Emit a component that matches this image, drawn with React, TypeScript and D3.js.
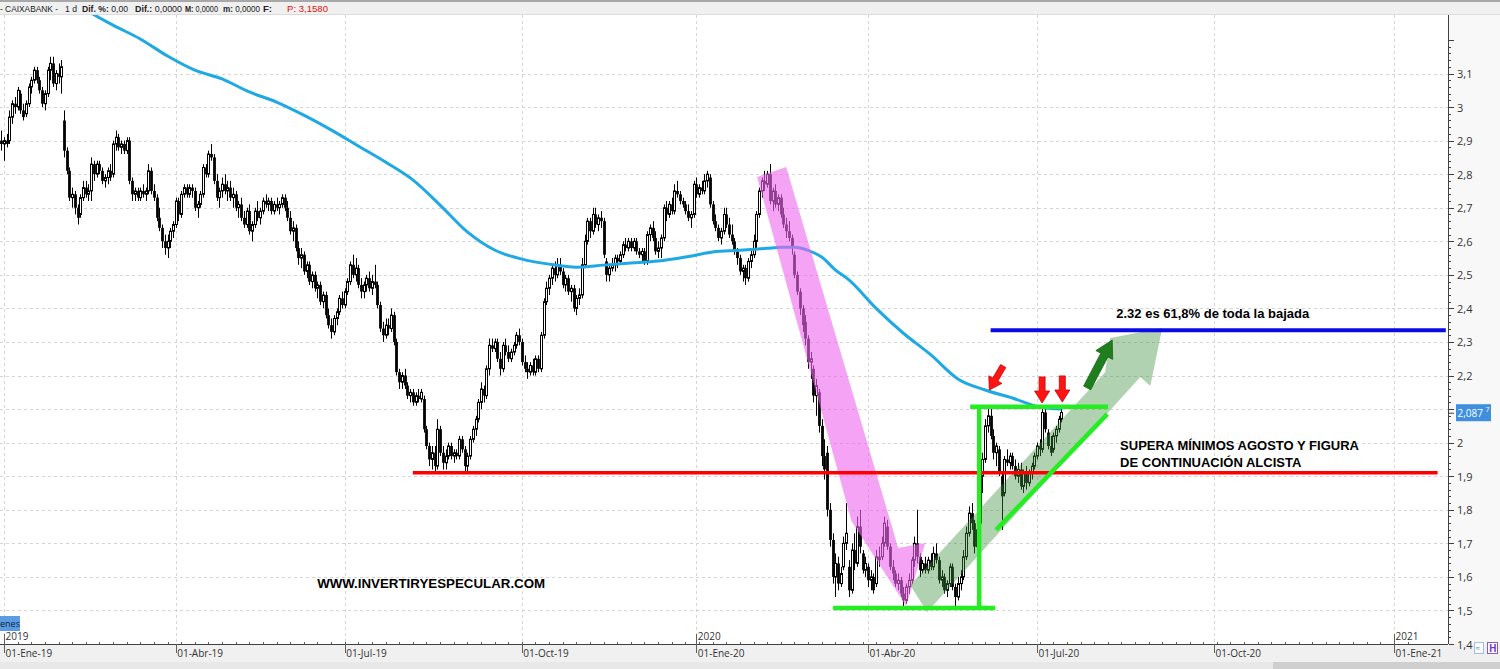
import React from 'react';
import * as d3 from 'd3';

// ---------- DATA (daily candles, trading-day index starting at -1) ----------
const START_INDEX = -1;

const opens = [
  2.90,2.89,2.90,2.90,2.97,3.01,3.00,3.04,2.99,2.98,3.01,
  3.06,3.08,3.11,3.08,3.05,3.01,3.04,3.11,3.13,3.07,
  3.10,3.09,2.96,2.87,2.81,2.73,2.74,2.70,2.68,2.73,
  2.76,2.74,2.75,2.83,2.80,2.83,2.81,2.78,2.79,2.81,
  2.80,2.89,2.91,2.88,2.89,2.87,2.90,2.78,2.74,2.75,
  2.73,2.75,2.74,2.75,2.81,2.75,2.73,2.67,2.64,2.60,
  2.58,2.60,2.63,2.65,2.72,2.68,2.74,2.76,2.74,2.76,
  2.75,2.70,2.71,2.74,2.82,2.80,2.86,2.85,2.78,2.73,
  2.75,2.77,2.75,2.76,2.73,2.74,2.70,2.71,2.67,2.65,
  2.69,2.63,2.65,2.69,2.67,2.69,2.72,2.71,2.72,2.69,
  2.71,2.70,2.71,2.73,2.70,2.67,2.63,2.64,2.58,2.55,
  2.56,2.51,2.53,2.48,2.50,2.46,2.47,2.42,2.44,2.38,
  2.35,2.33,2.37,2.39,2.43,2.41,2.45,2.48,2.53,2.50,
  2.52,2.47,2.45,2.47,2.49,2.46,2.48,2.47,2.41,2.34,
  2.32,2.35,2.34,2.38,2.30,2.21,2.18,2.20,2.17,2.14,
  2.15,2.12,2.14,2.13,2.13,2.04,1.99,1.95,1.97,1.93,
  2.04,1.97,1.94,1.96,1.99,1.96,1.97,1.96,2.01,1.98,
  1.93,1.96,2.01,2.04,2.07,2.12,2.16,2.14,2.22,2.29,
  2.28,2.30,2.25,2.22,2.29,2.27,2.25,2.27,2.29,2.32,
  2.30,2.24,2.22,2.21,2.23,2.21,2.25,2.22,2.32,2.42,
  2.46,2.49,2.52,2.50,2.53,2.51,2.47,2.49,2.45,2.46,
  2.40,2.43,2.44,2.53,2.60,2.66,2.63,2.68,2.65,2.67,
  2.66,2.54,2.50,2.52,2.53,2.55,2.54,2.56,2.59,2.58,
  2.60,2.58,2.60,2.57,2.56,2.57,2.54,2.62,2.64,2.61,
  2.57,2.58,2.61,2.70,2.68,2.71,2.69,2.75,2.74,2.72,
  2.71,2.69,2.67,2.68,2.77,2.74,2.76,2.75,2.78,2.79,
  2.71,2.66,2.64,2.61,2.63,2.68,2.65,2.62,2.60,2.57,
  2.55,2.51,2.52,2.49,2.54,2.56,2.60,2.68,2.75,2.78,
  2.77,2.80,2.72,2.75,2.71,2.73,2.68,2.65,2.63,2.61,
  2.56,2.50,2.45,2.40,2.36,2.31,2.24,2.22,2.14,2.15,
  2.05,1.96,1.97,1.80,1.71,1.60,1.64,1.58,1.63,1.70,
  1.63,1.56,1.68,1.64,1.75,1.67,1.62,1.63,1.59,1.60,
  1.58,1.66,1.66,1.70,1.75,1.69,1.63,1.61,1.58,1.59,
  1.55,1.53,1.57,1.59,1.65,1.70,1.66,1.62,1.64,1.62,
  1.65,1.63,1.67,1.65,1.59,1.60,1.56,1.58,1.63,1.57,
  1.54,1.58,1.60,1.66,1.73,1.79,1.76,1.69,1.76,1.90,
  1.95,2.05,2.08,2.02,1.97,1.98,1.90,1.85,1.95,1.94,
  1.96,1.93,1.90,1.92,1.87,1.91,1.88,1.91,1.93,1.96,
  1.99,1.98,2.09,2.03,1.99,1.98,2.02,2.04,2.07,
];

const highs = [
  2.93,2.91,2.92,2.99,3.02,3.03,3.06,3.05,3.01,3.02,3.07,
  3.09,3.12,3.12,3.09,3.06,3.05,3.12,3.15,3.15,3.11,
  3.13,3.14,2.99,2.88,2.82,2.76,2.75,2.71,2.74,2.78,
  2.78,2.77,2.85,2.84,2.84,2.84,2.82,2.80,2.82,2.83,
  2.90,2.93,2.92,2.90,2.90,2.91,2.91,2.79,2.76,2.76,
  2.76,2.77,2.76,2.83,2.82,2.77,2.74,2.70,2.65,2.62,
  2.62,2.64,2.66,2.73,2.73,2.75,2.77,2.77,2.77,2.77,
  2.76,2.72,2.75,2.83,2.83,2.87,2.89,2.86,2.80,2.76,
  2.79,2.80,2.78,2.78,2.76,2.75,2.72,2.73,2.69,2.70,
  2.71,2.66,2.70,2.72,2.70,2.73,2.74,2.73,2.73,2.72,
  2.73,2.72,2.74,2.74,2.72,2.69,2.66,2.65,2.60,2.58,
  2.57,2.54,2.54,2.51,2.51,2.48,2.48,2.45,2.45,2.40,
  2.37,2.38,2.40,2.44,2.45,2.46,2.49,2.54,2.56,2.55,
  2.53,2.49,2.48,2.50,2.51,2.50,2.53,2.48,2.42,2.36,
  2.37,2.37,2.40,2.39,2.31,2.22,2.21,2.22,2.18,2.16,
  2.16,2.15,2.16,2.16,2.14,2.05,2.00,1.99,1.99,2.07,
  2.05,1.99,1.98,2.00,2.00,1.98,1.98,2.02,2.02,1.99,
  1.97,2.02,2.05,2.08,2.13,2.18,2.17,2.23,2.31,2.31,
  2.31,2.31,2.27,2.30,2.31,2.29,2.28,2.30,2.33,2.34,
  2.31,2.26,2.24,2.24,2.25,2.26,2.26,2.33,2.43,2.48,
  2.50,2.53,2.54,2.55,2.55,2.52,2.50,2.50,2.47,2.47,
  2.44,2.46,2.55,2.62,2.67,2.67,2.70,2.70,2.68,2.69,
  2.67,2.55,2.53,2.55,2.56,2.56,2.57,2.60,2.61,2.61,
  2.61,2.61,2.61,2.58,2.58,2.58,2.63,2.65,2.66,2.63,
  2.60,2.62,2.71,2.72,2.72,2.73,2.77,2.78,2.75,2.73,
  2.72,2.71,2.69,2.78,2.79,2.77,2.78,2.80,2.81,2.80,
  2.72,2.68,2.65,2.64,2.70,2.70,2.67,2.65,2.61,2.58,
  2.56,2.53,2.53,2.55,2.58,2.62,2.69,2.76,2.79,2.81,
  2.81,2.83,2.76,2.77,2.74,2.74,2.70,2.67,2.66,2.62,
  2.57,2.51,2.46,2.41,2.38,2.32,2.27,2.23,2.19,2.16,
  2.07,2.01,1.99,1.82,1.73,1.67,1.66,1.63,1.72,1.82,
  1.65,1.70,1.73,1.78,1.80,1.68,1.66,1.64,1.62,1.61,
  1.68,1.69,1.72,1.78,1.77,1.70,1.65,1.62,1.61,1.60,
  1.57,1.58,1.61,1.66,1.72,1.80,1.67,1.65,1.66,1.66,
  1.67,1.69,1.70,1.66,1.62,1.61,1.59,1.64,1.64,1.58,
  1.60,1.62,1.68,1.75,1.81,1.82,1.77,1.76,1.92,1.97,
  2.07,2.11,2.10,2.04,2.00,1.99,1.91,1.96,1.98,1.97,
  1.97,1.95,1.94,1.94,1.92,1.93,1.92,1.94,1.97,2.00,
  2.01,2.11,2.10,2.04,2.02,2.03,2.05,2.08,2.11,
];

const lows = [
  2.87,2.84,2.88,2.89,2.95,2.98,2.99,2.98,2.96,2.97,3.00,
  3.04,3.07,3.07,3.04,3.00,2.99,3.03,3.08,3.06,3.05,
  3.07,3.04,2.85,2.80,2.72,2.70,2.68,2.65,2.67,2.72,
  2.73,2.72,2.72,2.78,2.79,2.80,2.77,2.76,2.77,2.78,
  2.79,2.87,2.87,2.86,2.86,2.86,2.77,2.72,2.72,2.72,
  2.72,2.73,2.72,2.74,2.74,2.72,2.66,2.63,2.58,2.56,
  2.55,2.58,2.61,2.64,2.66,2.67,2.73,2.73,2.73,2.73,
  2.69,2.67,2.70,2.73,2.79,2.79,2.84,2.77,2.72,2.70,
  2.73,2.74,2.72,2.72,2.70,2.69,2.67,2.66,2.64,2.64,
  2.62,2.60,2.64,2.66,2.65,2.68,2.70,2.69,2.68,2.68,
  2.69,2.68,2.70,2.69,2.66,2.62,2.60,2.57,2.53,2.52,
  2.50,2.49,2.47,2.46,2.45,2.43,2.41,2.40,2.37,2.34,
  2.31,2.32,2.35,2.38,2.40,2.40,2.44,2.47,2.49,2.48,
  2.46,2.43,2.43,2.45,2.45,2.44,2.46,2.40,2.33,2.30,
  2.31,2.32,2.33,2.29,2.20,2.16,2.16,2.16,2.13,2.12,
  2.11,2.11,2.12,2.12,2.03,1.98,1.93,1.92,1.91,1.92,
  1.96,1.92,1.92,1.95,1.95,1.94,1.95,1.95,1.97,1.91,
  1.91,1.95,2.00,2.02,2.06,2.10,2.12,2.13,2.20,2.27,
  2.27,2.24,2.20,2.21,2.26,2.24,2.24,2.26,2.28,2.29,
  2.23,2.21,2.19,2.20,2.20,2.20,2.21,2.21,2.31,2.41,
  2.44,2.47,2.48,2.49,2.50,2.46,2.45,2.44,2.42,2.39,
  2.38,2.41,2.43,2.52,2.59,2.61,2.62,2.64,2.63,2.64,
  2.55,2.48,2.48,2.51,2.51,2.52,2.53,2.55,2.57,2.57,
  2.57,2.57,2.56,2.55,2.54,2.53,2.53,2.60,2.60,2.56,
  2.55,2.55,2.60,2.66,2.67,2.68,2.68,2.73,2.71,2.70,
  2.68,2.66,2.64,2.67,2.73,2.73,2.74,2.74,2.76,2.70,
  2.65,2.63,2.60,2.59,2.62,2.64,2.61,2.59,2.56,2.53,
  2.50,2.48,2.47,2.48,2.52,2.55,2.58,2.67,2.73,2.75,
  2.76,2.71,2.69,2.70,2.69,2.67,2.64,2.61,2.60,2.56,
  2.49,2.44,2.38,2.33,2.29,2.22,2.19,2.12,2.08,2.03,
  1.93,1.89,1.78,1.69,1.58,1.54,1.56,1.57,1.62,1.68,
  1.54,1.55,1.62,1.63,1.67,1.61,1.60,1.57,1.56,1.55,
  1.57,1.63,1.65,1.69,1.68,1.62,1.59,1.57,1.56,1.54,
  1.51,1.52,1.55,1.58,1.63,1.64,1.60,1.61,1.61,1.61,
  1.62,1.62,1.64,1.58,1.57,1.55,1.54,1.57,1.56,1.51,
  1.53,1.56,1.59,1.65,1.72,1.74,1.67,1.68,1.75,1.85,
  1.94,2.03,2.01,1.95,1.93,1.90,1.74,1.84,1.93,1.92,
  1.92,1.89,1.88,1.86,1.85,1.86,1.87,1.89,1.92,1.95,
  1.96,1.97,2.03,1.98,1.96,1.97,2.00,2.03,2.06,
];

const closes = [
  2.89,2.90,2.89,2.97,3.01,3.00,3.05,2.99,2.97,3.01,3.06,
  3.08,3.11,3.08,3.05,3.01,3.04,3.11,3.13,3.07,3.10,
  3.09,3.12,2.87,2.81,2.73,2.74,2.70,2.67,2.73,2.76,
  2.74,2.75,2.83,2.80,2.83,2.81,2.78,2.79,2.81,2.79,
  2.89,2.91,2.88,2.89,2.87,2.90,2.78,2.74,2.75,2.73,
  2.75,2.74,2.75,2.81,2.75,2.73,2.67,2.64,2.60,2.58,
  2.60,2.63,2.65,2.72,2.68,2.74,2.76,2.74,2.76,2.75,
  2.70,2.71,2.74,2.82,2.80,2.86,2.85,2.78,2.73,2.75,
  2.77,2.75,2.76,2.73,2.74,2.70,2.71,2.67,2.65,2.69,
  2.63,2.65,2.69,2.67,2.69,2.72,2.71,2.72,2.69,2.71,
  2.70,2.71,2.73,2.70,2.67,2.63,2.64,2.58,2.55,2.56,
  2.51,2.53,2.48,2.50,2.46,2.47,2.42,2.44,2.38,2.35,
  2.33,2.37,2.39,2.43,2.41,2.45,2.48,2.53,2.50,2.52,
  2.47,2.45,2.47,2.49,2.46,2.48,2.47,2.41,2.34,2.32,
  2.35,2.34,2.38,2.30,2.21,2.18,2.20,2.17,2.14,2.15,
  2.12,2.14,2.13,2.15,2.04,1.99,1.95,1.97,1.93,2.04,
  1.97,1.94,1.96,1.99,1.96,1.97,1.96,2.01,1.98,1.93,
  1.96,2.01,2.04,2.07,2.12,2.16,2.14,2.22,2.29,2.28,
  2.30,2.25,2.22,2.29,2.27,2.25,2.27,2.29,2.32,2.30,
  2.24,2.22,2.21,2.23,2.21,2.25,2.22,2.32,2.42,2.46,
  2.49,2.52,2.50,2.53,2.51,2.47,2.49,2.45,2.46,2.40,
  2.43,2.44,2.53,2.60,2.66,2.63,2.68,2.65,2.67,2.66,
  2.56,2.50,2.52,2.53,2.55,2.54,2.56,2.59,2.58,2.60,
  2.58,2.60,2.57,2.56,2.57,2.54,2.62,2.64,2.61,2.57,
  2.58,2.61,2.70,2.68,2.71,2.69,2.75,2.74,2.72,2.71,
  2.69,2.67,2.68,2.77,2.74,2.76,2.75,2.78,2.80,2.71,
  2.66,2.64,2.61,2.63,2.68,2.65,2.62,2.60,2.57,2.55,
  2.51,2.52,2.49,2.54,2.56,2.60,2.68,2.75,2.78,2.77,
  2.80,2.72,2.75,2.71,2.73,2.68,2.65,2.63,2.61,2.58,
  2.50,2.45,2.40,2.35,2.31,2.24,2.25,2.14,2.17,2.05,
  1.96,1.92,1.80,1.71,1.60,1.64,1.58,1.61,1.70,1.73,
  1.56,1.68,1.64,1.75,1.69,1.62,1.64,1.59,1.60,1.56,
  1.66,1.65,1.70,1.76,1.69,1.63,1.61,1.58,1.59,1.55,
  1.53,1.57,1.59,1.65,1.70,1.66,1.62,1.64,1.62,1.65,
  1.63,1.67,1.65,1.59,1.60,1.56,1.58,1.63,1.57,1.54,
  1.58,1.60,1.66,1.73,1.79,1.76,1.69,1.74,1.90,1.95,
  2.05,2.08,2.02,1.97,1.99,1.91,1.84,1.95,1.94,1.96,
  1.93,1.90,1.92,1.87,1.91,1.88,1.91,1.93,1.96,1.99,
  1.98,2.09,2.04,1.99,1.97,2.02,2.04,2.07,2.09,
];

// 200-session moving average, read at selected sessions
const maIndex = [30,40,50,60,70,80,90,100,110,120,130,140,150,160,170,180,190,200,210,220,230,240,250,260,270,280,285,290,295,300,305,310,320,330,340,350,360,370,380,388];
const maValue = [3.289,3.244,3.203,3.152,3.110,3.084,3.045,3.015,2.976,2.932,2.884,2.836,2.783,2.708,2.628,2.574,2.547,2.532,2.523,2.529,2.535,2.541,2.553,2.568,2.573,2.579,2.582,2.582,2.573,2.553,2.515,2.485,2.400,2.326,2.262,2.190,2.157,2.133,2.106,2.100];

const priceTicks = [1.4,1.5,1.6,1.7,1.8,1.9,2.0,2.1,2.2,2.3,2.4,2.5,2.6,2.7,2.8,2.9,3.0,3.1];
const dateTickIndex = [0,63,125,190,254,317,379,444,510];
const dateTickLabels = ['01-Ene-19','01-Abr-19','01-Jul-19','01-Oct-19','01-Ene-20','01-Abr-20','01-Jul-20','01-Oct-20','01-Ene-21'];
const yearTickIndex = [0,254,510];
const yearTickLabels = ['2019','2020','2021'];

const lastPrice = 2.0877;
const lastPriceMain = '2,087';
const lastPriceExtra = '7';

// header segments
const headerLabels = ['', '', 'Dif. %:', 'Dif.:', 'M:', 'm:', 'F:', ''];
const headerValues = ['- CAIXABANK -', '1 d', ' 0,00', ' 0,0000', ' 0,0000', ' 0,0000', '', 'P: 3,1580'];

// Annotations (session index, price)
const supportLine = { price: 1.91, from: 150, to: 526 };
const targetLine = { price: 2.335, from: 362, to: 529 };
const boxBottom = { price: 1.507, from: 304.2, to: 363.7 };
const boxVertical = { index: 357.8, from: 1.507, to: 2.109 };
const boxTop = { price: 2.107, from: 354.5, to: 405.1 };
const trendLine = [[364.0, 1.740], [404.8, 2.085]];
const pinkArrow = [[276.3, 2.792], [287.0, 2.821], [328.1, 1.686], [338.0, 1.701], [331.0, 1.513], [311.0, 1.766]];
const greenArrow = [[332.5, 1.576], [404.0, 2.210], [405.9, 2.312], [424.95, 2.342], [420.6, 2.169], [416.9, 2.196], [338.7, 1.495]];
const darkGreenArrow = [[397.4, 2.163], [406.6, 2.306]];
const redArrows = [
  [[366.6, 2.228], [361.5, 2.157]],
  [[380.9, 2.196], [380.9, 2.118]],
  [[388.3, 2.199], [388.3, 2.121]],
];
const noteTarget = { index: 408.1, price: 2.371, text: '2.32 es 61,8% de toda la bajada' };
const noteBreak = { index: 409.5, price: 1.978, lines: ['SUPERA MÍNIMOS AGOSTO Y FIGURA', 'DE CONTINUACIÓN ALCISTA'] };
const noteWeb = { index: 114.9, price: 1.567, text: 'WWW.INVERTIRYESPECULAR.COM' };

// ---------- LAYOUT ----------
const W = 1500, H = 669;
const PLOT_L = 0, PLOT_R = 1448, PLOT_T = 15, PLOT_B = 644;

const x = d3.scaleLinear().domain([0, 510]).range([4, 1394]);
const y = d3.scaleLinear().domain([1.4, 3.1]).range([644, 73.5]);

const headerX = [0, 65, 82, 135, 185, 223, 263, 287];
const headerW = [58, 12, 46, 47, 33, 37, 9, 41];

function arrowPoly(x1: number, y1: number, x2: number, y2: number, shaftW: number, headW: number, headL: number) {
  const dx = x2 - x1, dy = y2 - y1;
  const len = Math.hypot(dx, dy);
  const ux = dx / len, uy = dy / len;
  const px = -uy, py = ux;
  const bx = x2 - ux * headL, by = y2 - uy * headL;
  const pts = [
    [x1 + px * shaftW / 2, y1 + py * shaftW / 2],
    [bx + px * shaftW / 2, by + py * shaftW / 2],
    [bx + px * headW / 2, by + py * headW / 2],
    [x2, y2],
    [bx - px * headW / 2, by - py * headW / 2],
    [bx - px * shaftW / 2, by - py * shaftW / 2],
    [x1 - px * shaftW / 2, y1 - py * shaftW / 2],
  ];
  return 'M' + pts.map(p => p[0].toFixed(1) + ',' + p[1].toFixed(1)).join('L') + 'Z';
}

const fmt = (v: number) => {
  const s = d3.format('.1f')(v);
  return (s.endsWith('.0') ? s.slice(0, -2) : s).replace('.', ',');
};

export default function App() {
  const candles = closes.map((c, k) => ({ i: START_INDEX + k, o: opens[k], h: highs[k], l: lows[k], c }));
  const maLine = d3.line<number>()
    .x((_, k) => x(maIndex[k]))
    .y((v) => y(v))
    .curve(d3.curveMonotoneX)(maValue) || '';
  const polyPath = (pts: number[][]) => 'M' + pts.map(p => x(p[0]).toFixed(1) + ',' + y(p[1]).toFixed(1)).join('L') + 'Z';

  const minorTicks: number[] = d3.range(1.4, 3.2001, 0.02).map(v => +v.toFixed(2));
  const axisFont = '"Open Sans", "Liberation Sans", sans-serif';
  const noteFont = '"Liberation Sans", Arial, sans-serif';
  // labels hidden behind the last-price tag are not drawn
  const visiblePriceTicks = priceTicks.filter(p => Math.abs(y(p) - y(lastPrice)) > 12);

  return (
    <svg width={W} height={H} style={{ position: 'absolute', left: 0, top: 0, background: '#fff' }}
      xmlns="http://www.w3.org/2000/svg">
      <defs>
        <clipPath id="plotClip">
          <rect x={PLOT_L} y={PLOT_T} width={PLOT_R - PLOT_L} height={PLOT_B - PLOT_T} />
        </clipPath>
      </defs>

      {/* backgrounds */}
      <rect x={0} y={0} width={W} height={H} fill="#ffffff" />
      <rect x={PLOT_R} y={PLOT_T} width={W - PLOT_R} height={PLOT_B - PLOT_T} fill="#f8f8f8" />
      <rect x={0} y={PLOT_B} width={W} height={H - PLOT_B} fill="#f0f0f0" />
      <rect x={0} y={662} width={W} height={7} fill="#e8e8e8" />
      <rect x={1273} y={662} width={W - 1273} height={7} fill="#cfcfcf" />

      {/* gridlines */}
      <g stroke="#d4d4d4" strokeWidth={1} strokeDasharray="3,3">
        {priceTicks.map(p => (
          <line key={'gy' + p} x1={PLOT_L} x2={PLOT_R} y1={Math.round(y(p)) + 0.5} y2={Math.round(y(p)) + 0.5} />
        ))}
        {dateTickIndex.map(i => (
          <line key={'gx' + i} x1={Math.round(x(i)) + 0.5} x2={Math.round(x(i)) + 0.5} y1={PLOT_T} y2={PLOT_B} />
        ))}
      </g>

      <g clipPath="url(#plotClip)">
        {/* candles */}
        {candles.map(d => {
          const cx = Math.round(x(d.i)) + 0.5;
          const yo = y(d.o), yc = y(d.c), yh = y(d.h), yl = y(d.l);
          const up = d.c >= d.o;
          const top = Math.min(yo, yc), bh = Math.max(Math.abs(yo - yc), 1);
          return (
            <g key={'c' + d.i}>
              <line x1={cx} x2={cx} y1={yh} y2={yl} stroke="#000" strokeWidth={1} />
              {up ? (
                <rect x={cx - 1} y={top} width={2} height={bh} fill="#fff" stroke="#000" strokeWidth={1} />
              ) : (
                <rect x={cx - 1.4} y={top} width={2.8} height={bh} fill="#000" />
              )}
            </g>
          );
        })}

        {/* moving average */}
        <path d={maLine} fill="none" stroke="#1ea9e4" strokeWidth={3} strokeLinejoin="round" />

        {/* pink falling channel arrow */}
        <path d={polyPath(pinkArrow)} fill="#ee66ee" fillOpacity={0.6} />
        {/* light green rising arrow */}
        <path d={polyPath(greenArrow)} fill="#3d8f3d" fillOpacity={0.4} />

        {/* support & target lines */}
        <line x1={x(supportLine.from)} x2={x(supportLine.to)} y1={y(supportLine.price)} y2={y(supportLine.price)} stroke="#ff0000" strokeWidth={3.5} />
        <line x1={x(targetLine.from)} x2={x(targetLine.to)} y1={y(targetLine.price)} y2={y(targetLine.price)} stroke="#0a0ae6" strokeWidth={4} />

        {/* bright green figure */}
        <g stroke="#22ee22" strokeWidth={4.5}>
          <line x1={x(boxBottom.from)} x2={x(boxBottom.to)} y1={y(boxBottom.price)} y2={y(boxBottom.price)} />
          <line x1={x(boxVertical.index)} x2={x(boxVertical.index)} y1={y(boxVertical.from)} y2={y(boxVertical.to)} />
          <line x1={x(boxTop.from)} x2={x(boxTop.to)} y1={y(boxTop.price)} y2={y(boxTop.price)} />
          <line x1={x(trendLine[0][0])} x2={x(trendLine[1][0])} y1={y(trendLine[0][1])} y2={y(trendLine[1][1])} />
        </g>

        {/* dark green arrow */}
        <path d={arrowPoly(x(darkGreenArrow[0][0]), y(darkGreenArrow[0][1]), x(darkGreenArrow[1][0]), y(darkGreenArrow[1][1]), 8, 19, 17)}
          fill="#1f7f1f" stroke="#176617" strokeWidth={0.8} />

        {/* red arrows */}
        {redArrows.map((a, k) => (
          <path key={'ra' + k} d={arrowPoly(x(a[0][0]), y(a[0][1]), x(a[1][0]), y(a[1][1]), 6, 15, 12)}
            fill="#ff1414" stroke="#c80000" strokeWidth={0.8} />
        ))}

        {/* notes */}
        <text x={x(noteTarget.index)} y={y(noteTarget.price)} fontFamily={noteFont} fontWeight="bold" fontSize={13} fill="#000">{noteTarget.text}</text>
        {noteBreak.lines.map((t, k) => (
          <text key={'nb' + k} x={x(noteBreak.index)} y={y(noteBreak.price) + k * 17} fontFamily={noteFont} fontWeight="bold" fontSize={13} fill="#000">{t}</text>
        ))}
        <text x={x(noteWeb.index)} y={y(noteWeb.price)} fontFamily={noteFont} fontWeight="bold" fontSize={13}
          textLength={228} lengthAdjust="spacingAndGlyphs" fill="#000">{noteWeb.text}</text>
      </g>

      {/* right axis */}
      <line x1={PLOT_R + 0.5} x2={PLOT_R + 0.5} y1={PLOT_T} y2={PLOT_B} stroke="#404040" />
      <g stroke="#404040">
        {minorTicks.filter(v => y(v) >= PLOT_T && y(v) <= PLOT_B).map(v => (
          <line key={'mt' + v} x1={PLOT_R + 1} x2={PLOT_R + (Math.abs(v * 10 - Math.round(v * 10)) < 1e-6 ? 6 : 3)}
            y1={Math.round(y(v)) + 0.5} y2={Math.round(y(v)) + 0.5} />
        ))}
      </g>
      <g fontFamily={axisFont} fontSize={11} fill="#333">
        {visiblePriceTicks.map(p => (
          <text key={'pl' + p} x={1457} y={y(p)} dominantBaseline="central">{fmt(p)}</text>
        ))}
      </g>
      {/* last price tag */}
      <line x1={PLOT_R + 1} x2={PLOT_R + 6} y1={y(lastPrice)} y2={y(lastPrice)} stroke="#404040" />
      <rect x={1456} y={y(lastPrice) - 9} width={35} height={17} fill="#3e8fe0" />
      <text x={1457.5} y={y(lastPrice)} dominantBaseline="central" fontFamily={axisFont} fontSize={10} fill="#fff">{lastPriceMain}</text>
      <text x={1485.5} y={y(lastPrice) - 4} dominantBaseline="central" fontFamily={axisFont} fontSize={7} fill="#fff">{lastPriceExtra}</text>

      {/* bottom axis */}
      <line x1={0} x2={PLOT_R} y1={PLOT_B + 0.5} y2={PLOT_B + 0.5} stroke="#404040" />
      <g stroke="#606060">
        {d3.range(0, 520, 5).filter(i => x(i) < PLOT_R).map(i => (
          <line key={'wt' + i} x1={Math.round(x(i)) + 0.5} x2={Math.round(x(i)) + 0.5} y1={PLOT_B - 2} y2={PLOT_B} />
        ))}
        {dateTickIndex.map(i => (
          <line key={'dt' + i} x1={Math.round(x(i)) + 0.5} x2={Math.round(x(i)) + 0.5} y1={PLOT_B} y2={PLOT_B + 9} />
        ))}
        {yearTickIndex.map(i => (
          <line key={'yt' + i} x1={Math.round(x(i)) + 0.5} x2={Math.round(x(i)) + 0.5} y1={PLOT_B - 10} y2={PLOT_B} />
        ))}
      </g>
      <g fontFamily={axisFont} fontSize={10} fill="#333">
        {dateTickIndex.map((i, k) => (
          <text key={'dl' + i} x={x(i) + 1.5} y={657}>{dateTickLabels[k]}</text>
        ))}
        {yearTickIndex.map((i, k) => (
          <text key={'yl' + i} x={x(i) + 1.5} y={640}>{yearTickLabels[k]}</text>
        ))}
      </g>

      {/* volume tab stub */}
      <rect x={0} y={616} width={20} height={15} fill="#5b9de0" />
      <text x={0} y={627} fontFamily={axisFont} fontSize={9} fill="#102040">enes</text>

      {/* corner icons */}
      <rect x={1474.5} y={642.5} width={9} height={11} fill="#fff" stroke="#9cc0e8" />
      <text x={1475.5} y={651} fontSize={8} fill="#4a86d0" fontFamily={axisFont}>≈</text>
      <rect x={1487.5} y={642.5} width={10} height={11} fill="#fff" stroke="#8a5ad0" />
      <text x={1489} y={652} fontSize={10} fontWeight="bold" fill="#7a3ad0" fontFamily={axisFont}>H</text>

      {/* header */}
      <rect x={0} y={0} width={W} height={PLOT_T} fill="#f0f0f0" />
      <rect x={0} y={0} width={W} height={2} fill="#a8a8a8" />
      <line x1={0} x2={W} y1={PLOT_T - 0.5} y2={PLOT_T - 0.5} stroke="#dcdcdc" />
      <g fontFamily={noteFont} fontSize={8.2} fill="#222">
        {headerValues.map((v, k) => (
          <text key={'h' + k} x={headerX[k]} y={12} textLength={headerW[k]} lengthAdjust="spacingAndGlyphs"
            fill={k === headerValues.length - 1 ? '#e01010' : '#222'}>
            {headerLabels[k] ? <tspan fontWeight="bold">{headerLabels[k]}</tspan> : null}{v}
          </text>
        ))}
      </g>
    </svg>
  );
}
